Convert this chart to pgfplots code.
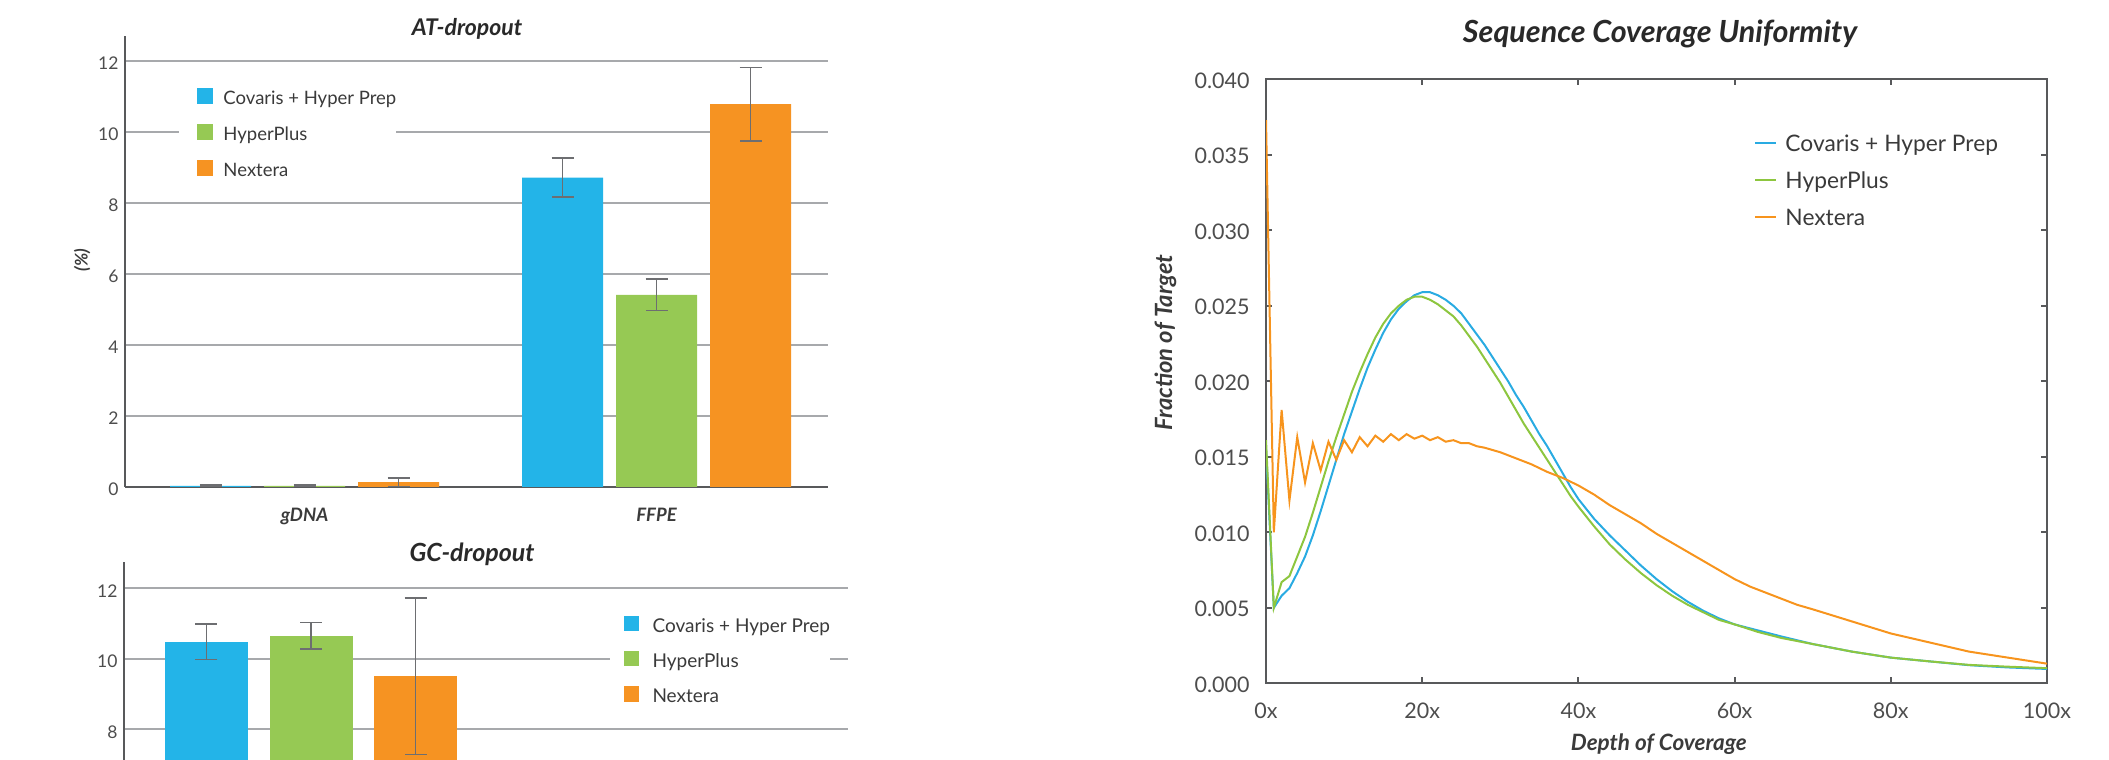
\documentclass[border=0pt]{standalone}
\usepackage{fontspec}
\setmainfont{Lato}
\usepackage{pgfplots}
\pgfplotsset{compat=1.18}
\definecolor{cblue}{HTML}{23B4E8}
\definecolor{cgreen}{HTML}{96C954}
\definecolor{corange}{HTML}{F69322}
\definecolor{lblue}{HTML}{29ABE2}
\definecolor{lgreen}{HTML}{8DC63F}
\definecolor{lorange}{HTML}{F7941D}
\definecolor{gridgray}{HTML}{A7A9AC}
\definecolor{axisgray}{HTML}{58595B}
\definecolor{errgray}{HTML}{6D6E71}
\definecolor{tickgray}{HTML}{4D4D4D}
\definecolor{labgray}{HTML}{3A3A3A}
\pgfplotsset{
  barchart/.style={
    scale only axis, anchor=south west,
    axis lines*=left, separate axis lines,
    x axis line style={draw=axisgray, line width=1bp},
    y axis line style={draw=axisgray, line width=0.8bp},
    major tick length=0pt,
    ymajorgrids, major grid style={draw=gridgray, line width=0.8bp},
    yticklabel style={font=\fontsize{7bp}{8bp}\selectfont, text=tickgray, anchor=east, inner sep=0pt, xshift=-2.4bp, text height=0.72em, text depth=0pt},
    xticklabel style={font=\bfseries\itshape\fontsize{7.4bp}{8bp}\selectfont, text=labgray, anchor=north, inner sep=0pt, yshift=-6.4bp, text height=0.72em, text depth=0.2em},
    legend cell align=left,
  },
  errs/.style={error bars/.cd, y dir=both, y explicit,
    error bar style={draw=errgray, line width=0.6bp},
    error mark options={rotate=90, draw=errgray, mark size=4.4bp, line width=0.6bp}},
}
\begin{document}
\begin{tikzpicture}
% ---------------- AT-dropout ----------------
\begin{axis}[barchart,
  at={(50bp,109.2bp)}, width=281.2bp, height=180.4bp,
  xmin=-0.51, xmax=1.487, ymin=0, ymax=12.7,
  ytick={0,2,4,6,8,10,12},
  yticklabels={0,2,4,6,8,10,12},
  xtick={0,1}, xticklabels={gDNA,FFPE},
  title={AT-dropout},
  every axis title/.style={at={(rel axis cs:0.4865,1)}, anchor=base, inner sep=0pt, text=labgray!70!black, font=\bfseries\itshape\fontsize{9.2bp}{10bp}\selectfont},
  ylabel={(\%)},
  ylabel style={at={(rel axis cs:-0.061,0.503)}, anchor=center, inner sep=0pt, text=labgray, font=\bfseries\itshape\fontsize{7bp}{8bp}\selectfont},
  legend style={at={(rel axis cs:0.0768,0.9044)}, anchor=north west, fill=white, draw=none,
    inner xsep=0pt, inner ysep=2bp, row sep=4.4bp, column sep=4bp,
    font=\fontsize{7.4bp}{9bp}\selectfont, text=labgray,
    nodes={inner sep=0pt, text height=0.8em, text depth=0.2em}},
]
\addplot[ybar, bar shift=0pt, bar width=0.2301, fill=cblue, draw=none,
  legend image code/.code={\fill[white] (-7.2bp,-3.7bp) rectangle (0bp,3.7bp); \fill[fill=cblue] (0bp,-2.75bp) rectangle (6.4bp,3.65bp);}, errs]
  coordinates {(-0.267,0.03) +- (0,0.03) (0.733,8.71) +- (0,0.55)};
\addlegendentry{Covaris + Hyper Prep}
\addplot[ybar, bar shift=0pt, bar width=0.2301, fill=cgreen, draw=none,
  legend image code/.code={\fill[white] (-7.2bp,-3.7bp) rectangle (0bp,3.7bp); \fill[fill=cgreen] (0bp,-2.75bp) rectangle (6.4bp,3.65bp);}, errs]
  coordinates {(0,0.03) +- (0,0.03) (1,5.41) +- (0,0.44)};
\addlegendentry{HyperPlus}
\addplot[ybar, bar shift=0pt, bar width=0.2301, fill=corange, draw=none,
  legend image code/.code={\fill[white] (-7.2bp,-3.7bp) rectangle (0bp,3.7bp); \fill[fill=corange] (0bp,-2.75bp) rectangle (6.4bp,3.65bp);}, errs]
  coordinates {(0.267,0.14) +- (0,0.12) (1.267,10.78) +- (0,1.03)};
\addlegendentry{Nextera}
\end{axis}
% ---------------- GC-dropout ----------------
\begin{axis}[barchart,
  at={(49.6bp,-100.44bp)}, width=289.6bp, height=179.76bp,
  xmin=-0.5027, xmax=1.4435, ymin=0, ymax=12.75,
  ytick={8,10,12},
  yticklabels={8,10,12},
  xtick=\empty,
  title={GC-dropout},
  every axis title/.style={at={(rel axis cs:0.4807,1)}, anchor=base, inner sep=0pt, text=labgray!70!black, font=\bfseries\itshape\fontsize{10bp}{11bp}\selectfont},
  legend style={at={(rel axis cs:0.6699,0.900)}, anchor=north west, fill=white, draw=none,
    inner xsep=0pt, inner ysep=2bp, row sep=4.14bp, column sep=5.4bp,
    font=\fontsize{7.6bp}{9bp}\selectfont, text=labgray,
    nodes={inner sep=0pt, text height=0.8em, text depth=0.2em}},
]
\addplot[ybar, bar shift=0pt, bar width=0.2231, fill=cblue, draw=none,
  legend image code/.code={\fill[white] (-5.6bp,-3.8bp) rectangle (0bp,3.8bp); \fill[fill=cblue] (0bp,-2.65bp) rectangle (6.2bp,3.55bp);}, errs]
  coordinates {(-0.281,10.48) +- (0,0.50)};
\addlegendentry{Covaris + Hyper Prep}
\addplot[ybar, bar shift=0pt, bar width=0.2231, fill=cgreen, draw=none,
  legend image code/.code={\fill[white] (-5.6bp,-3.8bp) rectangle (0bp,3.8bp); \fill[fill=cgreen] (0bp,-2.65bp) rectangle (6.2bp,3.55bp);}, errs]
  coordinates {(0,10.65) +- (0,0.38)};
\addlegendentry{HyperPlus}
\addplot[ybar, bar shift=0pt, bar width=0.2231, fill=corange, draw=none,
  legend image code/.code={\fill[white] (-5.6bp,-3.8bp) rectangle (0bp,3.8bp); \fill[fill=corange] (0bp,-2.65bp) rectangle (6.2bp,3.55bp);}, errs]
  coordinates {(0.281,9.50) +- (0,2.22)};
\addlegendentry{Nextera}
\end{axis}
% ---------------- Sequence Coverage Uniformity ----------------
\begin{axis}[
  at={(506.4bp,30.68bp)}, anchor=south west, scale only axis, width=312.4bp, height=241.6bp,
  xmin=0, xmax=100, ymin=0, ymax=0.04,
  axis line style={draw=axisgray, line width=0.8bp},
  tick style={draw=axisgray, line width=0.8bp},
  major tick length=2.4bp, tick align=inside,
  xtick={0,20,40,60,80,100}, xticklabels={0x,20x,40x,60x,80x,100x},
  ytick={0,0.005,0.01,0.015,0.02,0.025,0.03,0.035,0.04},
  yticklabels={0.000,0.005,0.010,0.015,0.020,0.025,0.030,0.035,0.040},
  scaled y ticks=false,
  yticklabel style={font=\fontsize{8.6bp}{10bp}\selectfont, text=tickgray, anchor=east, inner sep=0pt, xshift=-6.4bp, text height=0.72em, text depth=0pt},
  xticklabel style={font=\fontsize{8.6bp}{10bp}\selectfont, text=tickgray, anchor=north, inner sep=0pt, yshift=-6.7bp, text height=0.72em, text depth=0pt},
  title={Sequence Coverage Uniformity},
  every axis title/.style={at={(rel axis cs:0.5045,1.0606)}, anchor=base, inner sep=0pt, text=labgray!70!black, font=\bfseries\itshape\fontsize{12.2bp}{14bp}\selectfont},
  xlabel={Depth of Coverage},
  xlabel style={at={(rel axis cs:0.503,0)}, anchor=base, yshift=-26.96bp, inner sep=0pt, text=labgray, font=\bfseries\itshape\fontsize{9bp}{10bp}\selectfont},
  ylabel={Fraction of Target},
  ylabel style={at={(rel axis cs:-0.1287,0.564)}, anchor=center, inner sep=0pt, text=labgray, font=\bfseries\itshape\fontsize{9.5bp}{10bp}\selectfont},
  legend cell align=left,
  legend image code/.code={\draw[#1, line width=0.8bp] (0bp,0.5bp) -- (8.4bp,0.5bp);},
  legend style={at={(rel axis cs:0.6248,0.9136)}, anchor=north west, fill=none, draw=none,
    inner sep=0pt, row sep=4.72bp, column sep=3.2bp,
    font=\fontsize{9.1bp}{10bp}\selectfont, text=labgray,
    nodes={inner sep=0pt, text height=0.8em, text depth=0.2em}},
]
\addplot[lblue, line width=0.8bp] coordinates {
(0,0.0155) (1,0.0050) (2,0.0058) (3,0.0063) (4,0.0073) (5,0.0084) (6,0.0098) (7,0.0114)
(8,0.0131) (9,0.0148) (10,0.0165) (11,0.0180) (12,0.0195) (13,0.0209) (14,0.0221) (15,0.0232)
(16,0.0241) (17,0.0248) (18,0.0253) (19,0.0257) (20,0.0259) (21,0.0259) (22,0.0257) (23,0.0254)
(24,0.0250) (25,0.0245) (26,0.0238) (27,0.0231) (28,0.0224) (29,0.0216) (30,0.0208) (31,0.0200)
(32,0.0191) (33,0.0183) (34,0.0174) (35,0.0165) (36,0.0157) (37,0.0148) (38,0.0139) (39,0.0130)
(40,0.0122) (42,0.0109) (44,0.0098) (46,0.0088) (48,0.0078) (50,0.0069) (52,0.0061) (54,0.0054)
(56,0.0048) (58,0.0043) (60,0.0039) (63,0.0035) (66,0.0031) (70,0.0026) (75,0.0021) (80,0.0017)
(85,0.00145) (90,0.00120) (95,0.00105) (100,0.00095)};
\addlegendentry{Covaris + Hyper Prep}
\addplot[lgreen, line width=0.8bp] coordinates {
(0,0.0161) (1,0.0050) (2,0.0067) (3,0.0071) (4,0.0084) (5,0.0097) (6,0.0113) (7,0.0130)
(8,0.0147) (9,0.0163) (10,0.0178) (11,0.0193) (12,0.0206) (13,0.0218) (14,0.0229) (15,0.0238)
(16,0.0245) (17,0.0250) (18,0.0254) (19,0.0256) (20,0.0256) (21,0.0254) (22,0.0251) (23,0.0247)
(24,0.0243) (25,0.0237) (26,0.0230) (27,0.0223) (28,0.0215) (29,0.0207) (30,0.0199) (31,0.0190)
(32,0.0181) (33,0.0172) (34,0.0164) (35,0.0156) (36,0.0148) (37,0.0140) (38,0.0132) (39,0.0124)
(40,0.0117) (42,0.0104) (44,0.0092) (46,0.0082) (48,0.0073) (50,0.0065) (52,0.0058) (54,0.0052)
(56,0.0047) (58,0.0042) (60,0.0039) (63,0.0034) (66,0.0030) (70,0.0026) (75,0.0021) (80,0.0017)
(85,0.00145) (90,0.00122) (95,0.00110) (100,0.00100)};
\addlegendentry{HyperPlus}
\addplot[lorange, line width=0.8bp] coordinates {
(0,0.0373) (1,0.0100) (2,0.0181) (3,0.0121) (4,0.0163) (5,0.0133) (6,0.0159) (7,0.0141)
(8,0.0160) (9,0.0148) (10,0.0161) (11,0.0153) (12,0.0163) (13,0.0157) (14,0.0164) (15,0.0160)
(16,0.0165) (17,0.0161) (18,0.0165) (19,0.0162) (20,0.0164) (21,0.0161) (22,0.0163) (23,0.0160)
(24,0.0161) (25,0.0159) (26,0.0159) (27,0.0157) (28,0.0156) (30,0.0153) (32,0.0149) (34,0.0145)
(36,0.0140) (38,0.0136) (40,0.0131) (42,0.0125) (44,0.0118) (46,0.0112) (48,0.0106) (50,0.0099)
(52,0.0093) (54,0.0087) (56,0.0081) (58,0.0075) (60,0.0069) (62,0.0064) (64,0.0060) (66,0.0056)
(68,0.0052) (70,0.0049) (75,0.0041) (80,0.0033) (85,0.0027) (90,0.0021) (95,0.0017) (100,0.0013)};
\addlegendentry{Nextera}
\end{axis}
\pgfresetboundingbox
\path[use as bounding box] (0bp,0bp) rectangle (843.6bp,304bp);
\end{tikzpicture}
\end{document}
